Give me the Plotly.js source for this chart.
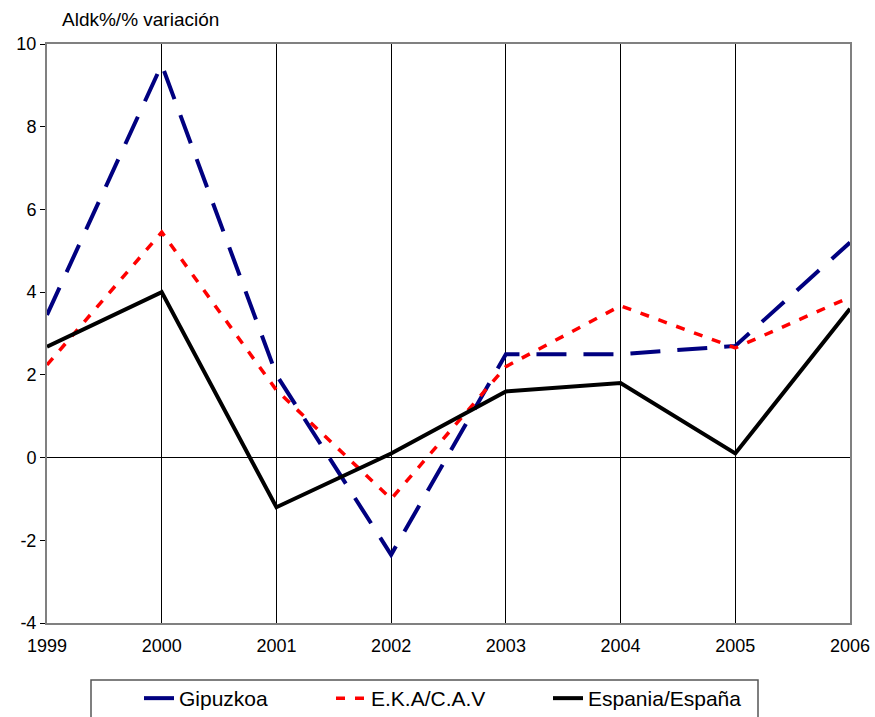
<!DOCTYPE html>
<html>
<head>
<meta charset="utf-8">
<script src="https://cdn.plot.ly/plotly-3.0.1.min.js"></script>
<style>html,body{margin:0;padding:0;background:#fff;}#chart{width:875px;height:717px;}</style>
</head>
<body>
<div id="chart"></div>
<script>
var years = [1999, 2000, 2001, 2002, 2003, 2004, 2005, 2006];
var gipuzkoa = [3.45, 9.5, 2.0, -2.35, 2.5, 2.5, 2.7, 5.2];
var eka = [2.24, 5.45, 1.63, -1.0, 2.2, 3.67, 2.65, 3.88];
var espania = [2.68, 4.0, -1.2, 0.1, 1.6, 1.8, 0.1, 3.6];
var seriesNames = ["Gipuzkoa", "E.K.A/C.A.V", "Espania/España"];
var yTicks = [-4, -2, 0, 2, 4, 6, 8, 10];
var yTickText = ["-4", "-2", "0", "2", "4", "6", "8", "10"];

var traces = [
  {x: years, y: gipuzkoa, name: seriesNames[0], mode: "lines", legend: "legend",
   line: {color: "#000080", width: 4, dash: "30px,17px"}},
  {x: years, y: eka, name: seriesNames[1], mode: "lines", legend: "legend2",
   line: {color: "#ff0000", width: 3.5, dash: "9px,10px"}},
  {x: years, y: espania, name: seriesNames[2], mode: "lines", legend: "legend3",
   line: {color: "#000000", width: 4}}
];

// plot area: 47..850 px horizontally, 44..623 px vertically
var W = 875, H = 717, L = 47, R = 25, T = 44, B = 94;
var pw = W - L - R, ph = H - T - B;
function px2x(p) { return (p - L) / pw; }
function py2y(p) { return (H - B - p) / ph; }

function legendAt(px) {
  return {orientation: "h", xref: "container", yref: "container",
    x: px / W, xanchor: "left", y: 1 - 678 / H, yanchor: "top",
    borderwidth: 0, bgcolor: "rgba(0,0,0,0)", font: {size: 21}, tracegroupgap: 0};
}

var layout = {
  width: W, height: H,
  margin: {l: L, r: R, t: T, b: B},
  paper_bgcolor: "#fff", plot_bgcolor: "#fff",
  font: {family: "Liberation Sans, Arial, sans-serif", size: 18, color: "#000"},
  title: {text: "Aldk%/% variación", xref: "container", yref: "container",
          x: 62/875, xanchor: "left", y: 1 - 19/717, yanchor: "middle",
          font: {size: 19, color: "#000"}},
  xaxis: {range: [1999, 2006], tickvals: years, ticktext: years.map(String),
          showgrid: true, gridcolor: "#000", gridwidth: 1,
          showline: true, linecolor: "#808080", linewidth: 2, mirror: true,
          zeroline: false, ticks: "", ticklabelstandoff: 5,
          tickfont: {size: 18}},
  yaxis: {range: [-4, 10], tickvals: yTicks, ticktext: yTickText, showgrid: false,
          zeroline: true, zerolinecolor: "#000", zerolinewidth: 1,
          showline: true, linecolor: "#808080", linewidth: 2, mirror: true,
          ticks: "outside", ticklen: 5, tickcolor: "#000",
          tickfont: {size: 18}},
  showlegend: true,
  legend: legendAt(139),
  legend2: legendAt(331),
  legend3: legendAt(548),
  shapes: [{type: "rect", xref: "paper", yref: "paper",
            x0: px2x(91), x1: px2x(758), y0: py2y(680), y1: py2y(724),
            line: {color: "#555", width: 1.5}, fillcolor: "rgba(0,0,0,0)", layer: "below"}]
};

Plotly.newPlot("chart", traces, layout, {displayModeBar: false, staticPlot: true});
</script>
</body>
</html>
